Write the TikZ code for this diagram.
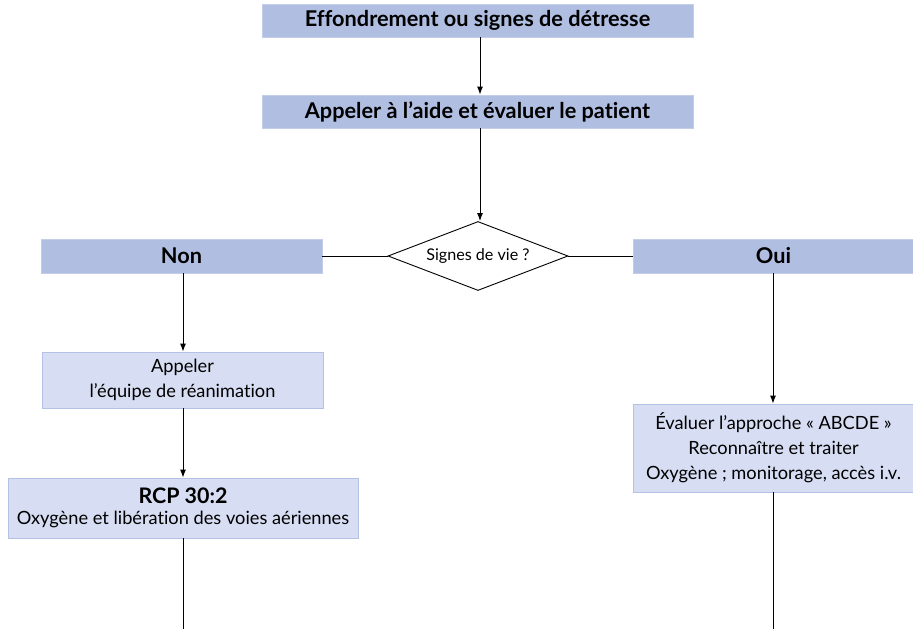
\documentclass[tikz,border=0pt]{standalone}
\usepackage{fontspec}
\setmainfont{Lato}[Ligatures=NoCommon]
\usetikzlibrary{arrows.meta,shapes.geometric}
\definecolor{headfill}{HTML}{B0BEE1}
\definecolor{headline}{HTML}{C3CDEA}
\definecolor{stepfill}{HTML}{D7DDF2}
\definecolor{stepline}{HTML}{B4C1E5}
\begin{document}
\begin{tikzpicture}[x=1bp,y=-1bp,
  headbox/.style={fill=headfill,draw=headline,line width=0.8bp,inner sep=0pt,
    font=\fontsize{21.8}{24}\selectfont\bfseries},
  stepbox/.style={fill=stepfill,draw=stepline,line width=0.8bp,inner sep=0pt,
    align=center,font=\fontsize{18.3}{25.3}\selectfont},
  decision/.style={diamond,draw=black,line width=0.9bp,inner sep=0pt,aspect=2.6,
    minimum width=180bp,minimum height=69bp,font=\fontsize{16.2}{19}\selectfont},
  link/.style={draw=black,line width=1bp},
  flow/.style={link,-{Latex[length=8bp,width=6bp]}}]
\useasboundingbox (0,0) rectangle (913,629);

\node[headbox,minimum width=431bp,minimum height=33bp] (collapse) at (477.5,20.5)
  {Effondrement ou signes de détresse};
\node[headbox,minimum width=431bp,minimum height=33bp] (help) at (477.5,111.5)
  {Appeler à l’aide et évaluer le patient};
\node[decision] (life) at (478,256) {Signes de vie ?};
\node[headbox,minimum width=281bp,minimum height=34bp] (no) at (181.5,256) {Non};
\node[headbox,minimum width=280bp,minimum height=34bp] (yes) at (773.5,256) {Oui};
\node[stepbox,minimum width=281bp,minimum height=56bp] (team) at (182.5,380)
  {Appeler\\l’équipe de réanimation};
\node[stepbox,minimum width=350bp,minimum height=60bp] (cpr) at (183,508)
  {{\fontsize{21.5}{24}\selectfont\bfseries RCP 30:2}\\[-4pt]Oxygène et libération des voies aériennes};
\node[stepbox,minimum width=280bp,minimum height=88bp] (abcde) at (773.5,448)
  {Évaluer l’approche « ABCDE »\\Reconnaître et traiter\\Oxygène ; monitorage, accès i.v.};

\coordinate (noEnd) at (183,629);
\coordinate (yesEnd) at (773,629);

\draw[flow] (collapse.south -| 480,0) -- (help.north -| 480,0);
\draw[flow] (help.south -| 480,0) -- (life.north -| 480,0);
\draw[link] (life.west) -- (no.east);
\draw[link] (life.east) -- (yes.west);
\draw[flow] (no.south -| 183,0) -- (team.north -| 183,0);
\draw[flow] (team.south -| 183,0) -- (cpr.north -| 183,0);
\draw[flow] (yes.south -| 773,0) -- (abcde.north -| 773,0);
\draw[link] (cpr.south -| noEnd) -- (noEnd);
\draw[link] (abcde.south -| yesEnd) -- (yesEnd);
\end{tikzpicture}
\end{document}
